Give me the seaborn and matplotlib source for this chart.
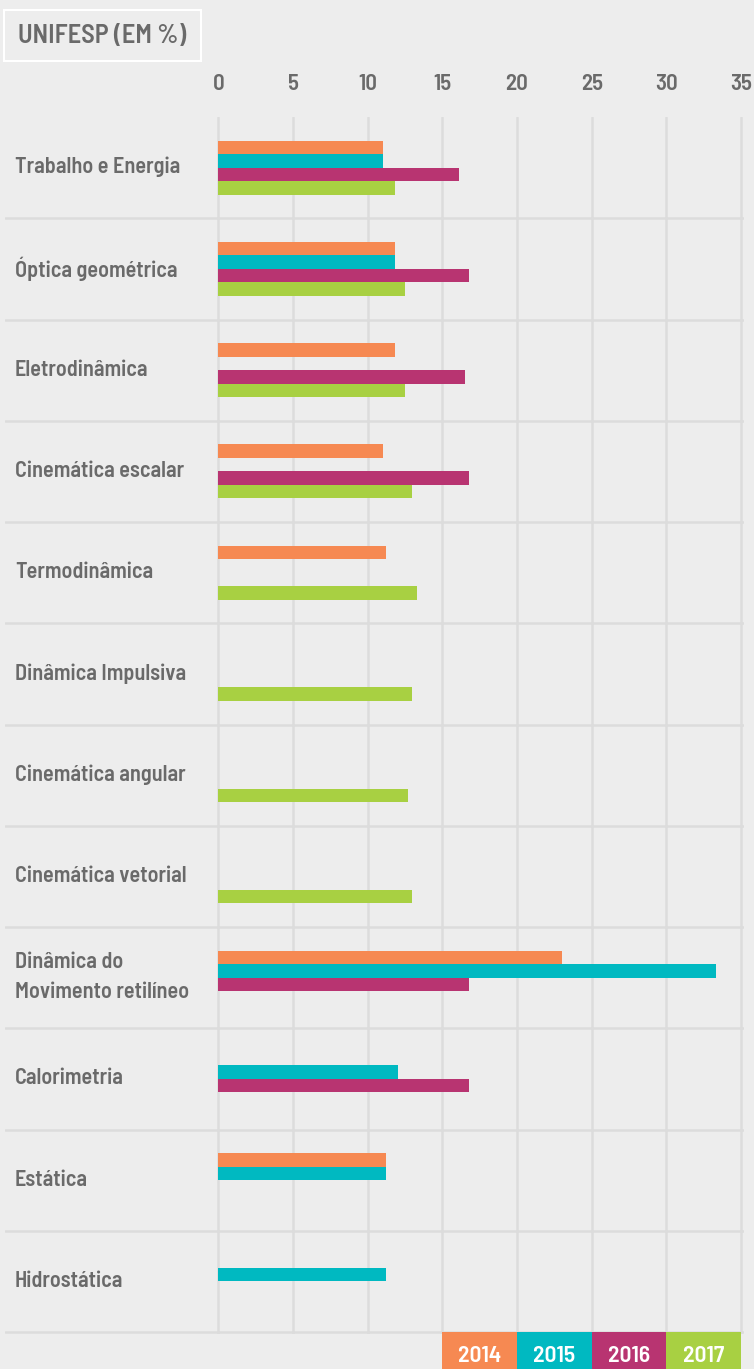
import numpy as np
import pandas as pd
import matplotlib.pyplot as plt
import matplotlib.transforms as mtransforms
from matplotlib.patches import Rectangle
import seaborn as sns

# --- data ---
temas = ["Trabalho e Energia", "Óptica geométrica", "Eletrodinâmica",
         "Cinemática escalar", "Termodinâmica", "Dinâmica Impulsiva",
         "Cinemática angular", "Cinemática vetorial",
         "Dinâmica do\nMovimento retilíneo", "Calorimetria", "Estática",
         "Hidrostática"]
anos = ["2014", "2015", "2016", "2017"]
nan = np.nan
v2014 = [11.0, 11.8, 11.8, 11.0, 11.2, nan, nan, nan, 23.0, nan, 11.2, nan]
v2015 = [11.0, 11.8, nan, nan, nan, nan, nan, nan, 33.3, 12.0, 11.2, 11.2]
v2016 = [16.1, 16.8, 16.5, 16.8, nan, nan, nan, nan, 16.8, 16.8, nan, nan]
v2017 = [11.8, 12.5, 12.5, 13.0, 13.3, 13.0, 12.7, 13.0, nan, nan, nan, nan]
xticks = [0, 5, 10, 15, 20, 25, 30, 35]
titulo = "UNIFESP (EM %)"

cores = ["#F68952", "#00B9C1", "#B83471", "#A8D042"]
fundo = "#EDEDED"
grade = "#DCDCDC"
texto = "#6A6A6A"

rows = []
for ano, vals in zip(anos, [v2014, v2015, v2016, v2017]):
    for tema, v in zip(temas, vals):
        rows.append({"tema": tema, "ano": ano, "pct": v})
df = pd.DataFrame(rows).dropna()

sns.set_style("white", {"axes.facecolor": fundo, "figure.facecolor": fundo})
plt.rcParams["font.family"] = ["Barlow Semi Condensed", "DejaVu Sans"]
plt.rcParams["font.weight"] = "semibold"

W, H = 754, 1369
fig = plt.figure(figsize=(W / 100, H / 100), dpi=100)
fig.patch.set_facecolor(fundo)

# axes: x 5..744 px, y 117..1334 px
ax = fig.add_axes([5 / W, 1 - 1334 / H, 739 / W, 1217 / H])
ax.set_facecolor(fundo)

sns.barplot(data=df, x="pct", y="tema", hue="ano", order=temas,
            hue_order=anos, palette=dict(zip(anos, cores)), saturation=1,
            orient="h", width=0.535, gap=0, errorbar=None, linewidth=0,
            legend=False, ax=ax)

pxu = (741 - 218.3) / 35
ax.set_xlim(-213.3 / pxu, 35 + 3 / pxu)
ax.set_ylim(-0.5 + 1217 / 101.25, -0.5)

for s in ax.spines.values():
    s.set_visible(False)

ax.set_xticks(xticks)
ax.xaxis.tick_top()
ax.tick_params(axis="x", length=0, pad=16.5, labelsize=16.5, labelcolor=texto)
for lb in ax.get_xticklabels():
    lb.set_fontweight("semibold")
ax.set_xlabel("")
ax.set_ylabel("")
ax.set_yticks([])
ax.set_yticks(np.arange(len(temas)) + 0.5, minor=True)
ax.tick_params(axis="y", which="both", length=0, labelleft=False)
ax.grid(axis="x", which="major", color=grade, linewidth=1.8)
ax.grid(axis="y", which="minor", color=grade, linewidth=1.8)
ax.set_axisbelow(True)

# category labels
trans = mtransforms.blended_transform_factory(fig.transFigure, ax.transData)
for i, tema in enumerate(temas):
    fig.text(15 / W, i - 0.005, tema, transform=trans, ha="left", va="center",
             fontsize=16, color=texto, fontweight="semibold", linespacing=1.65)

# title box
fig.patches.append(Rectangle((4 / W, 1 - 60.7 / H), 196.7 / W, 50.7 / H,
                             transform=fig.transFigure, facecolor="none",
                             edgecolor="white", linewidth=1.5))
fig.text(18 / W, 1 - 43 / H, titulo, ha="left", va="baseline",
         fontsize=19, color=texto, fontweight="semibold")

# year legend under the 15..35 range
leg = mtransforms.blended_transform_factory(ax.transData, fig.transFigure)
for k, (ano, cor) in enumerate(zip(anos, cores)):
    x0 = 15 + 5 * k
    ax.add_patch(Rectangle((x0, 0), 5, 1 - 1332.3 / H, transform=leg,
                           facecolor=cor, edgecolor="none", clip_on=False))
    ax.text(x0 + 2.5, 1 - 1362.3 / H, ano, transform=leg, ha="center",
            va="baseline", fontsize=17, color="white", fontweight="semibold")

fig.savefig("out.png", dpi=100, facecolor=fundo)
